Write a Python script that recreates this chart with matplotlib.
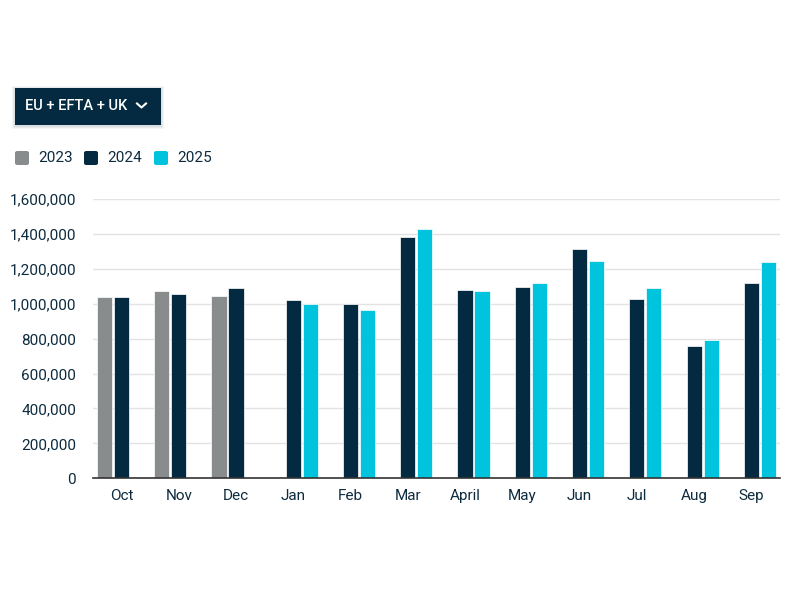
import numpy as np
import matplotlib
matplotlib.use("Agg")
import matplotlib.pyplot as plt
from matplotlib.patches import FancyBboxPatch
from matplotlib.ticker import FuncFormatter

plt.rcParams['font.family'] = ['Roboto', 'DejaVu Sans']

months = ["Oct", "Nov", "Dec", "Jan", "Feb", "Mar", "April", "May", "Jun", "Jul", "Aug", "Sep"]
years = ["2023", "2024", "2025"]
nan = np.nan
v2023 = [1040000, 1075000, 1046000, nan, nan, nan, nan, nan, nan, nan, nan, nan]
v2024 = [1040000, 1054000, 1090000, 1021000, 998000, 1384000, 1082000, 1096000, 1314000, 1027000, 759000, 1117000]
v2025 = [nan, nan, nan, 998000, 964000, 1428000, 1075000, 1117000, 1245000, 1090000, 793000, 1237000]
colors = ["#898c8d", "#032a40", "#00c4dd"]
text_color = "#0d2b3e"

fig = plt.figure(figsize=(8, 6), dpi=100)
ax = fig.add_axes([0.116, 0.203, 0.859, 0.465])

series = [v2023, v2024, v2025]
x = np.arange(len(months))
bw = 0.265
step = 0.297
for k, vals in enumerate(series):
    ax.bar(x + (k - 1) * step, vals, width=bw, color=colors[k],
           edgecolor="white", linewidth=0.5, zorder=3)

ax.set_xlim(-0.5, len(months) - 0.5)
ax.set_ylim(0, 1600000)
ax.set_yticks(np.arange(0, 1600001, 200000))
ax.yaxis.set_major_formatter(FuncFormatter(lambda v, p: f"{int(v):,}"))
ax.set_xticks(x)
ax.set_xticklabels(months)
ax.tick_params(axis="both", length=0, labelsize=11, colors=text_color)
ax.tick_params(axis="x", pad=8)
ax.tick_params(axis="y", pad=12)
ax.grid(axis="y", color="#e3e3e3", linewidth=1, zorder=0)
for s in ["top", "right", "left"]:
    ax.spines[s].set_visible(False)
ax.spines["bottom"].set_color("#333333")
ax.spines["bottom"].set_linewidth(1.2)
ax.spines["bottom"].set_zorder(4)

# dropdown button
W, H = 800, 600
for off, a in [(4, 0.08), (3, 0.1), (2, 0.12)]:
    sh = FancyBboxPatch(((15 - off + 1) / W, 1 - (125 + off) / H), (146 + 2 * off - 2) / W, (37 + 2 * off - 2) / H,
                        boxstyle="square,pad=0", transform=fig.transFigure,
                        facecolor="#7a8a94", edgecolor="none", alpha=a)
    fig.patches.append(sh)
btn = FancyBboxPatch((15 / W, 1 - 125 / H), 146 / W, 37 / H, boxstyle="square,pad=0",
                     transform=fig.transFigure, facecolor="#032a40", edgecolor="none")
fig.patches.append(btn)
fig.text(25 / W, 1 - 106.5 / H, "EU + EFTA + UK", color="white", fontsize=10.5,
         fontweight="medium", va="center", ha="left")
fig.lines.append(plt.Line2D([137 / W, 141.5 / W, 146 / W], [1 - 103.5 / H, 1 - 107.5 / H, 1 - 103.5 / H],
                            transform=fig.transFigure, color="white", linewidth=1.5))

# legend
leg_x = [15, 84, 154]
for k, yr in enumerate(years):
    sq = FancyBboxPatch((leg_x[k] / W, 1 - 165 / H), 14 / W, 14 / H,
                        boxstyle="round,pad=0,rounding_size=0.003",
                        transform=fig.transFigure, facecolor=colors[k], edgecolor="none")
    fig.patches.append(sq)
    fig.text((leg_x[k] + 23) / W, 1 - 158 / H, yr, color=text_color, fontsize=11,
             va="center", ha="left")

fig.savefig("out.png", dpi=100, facecolor="white")
